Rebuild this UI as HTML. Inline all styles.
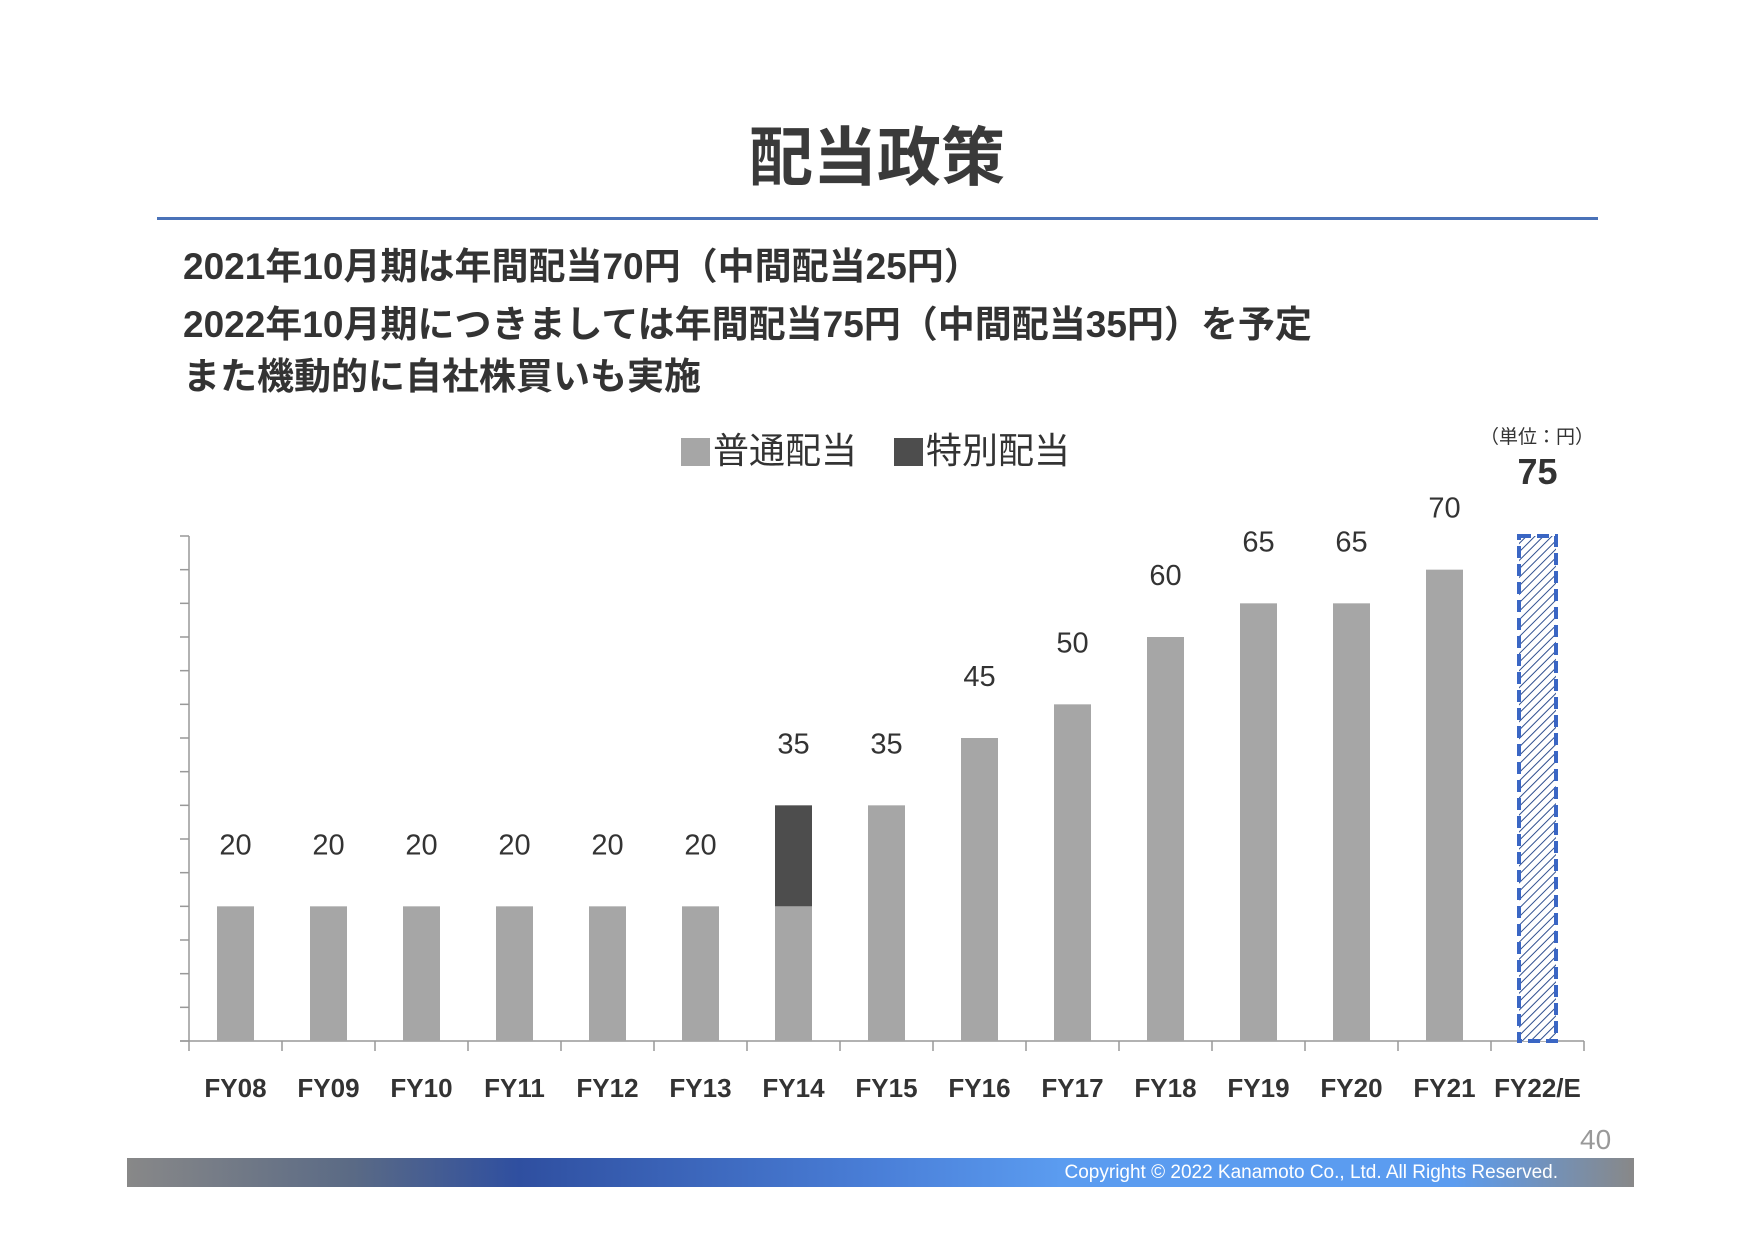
<!DOCTYPE html>
<html><head><meta charset="utf-8"><style>
html,body{margin:0;padding:0;background:#fff;}
body{width:1754px;height:1240px;position:relative;overflow:hidden;font-family:"Liberation Sans","Noto Sans CJK JP",sans-serif;color:#333;}
.abs{position:absolute;white-space:nowrap;}
</style></head><body>
<div class="abs" style="left:0;width:1754px;top:118px;text-align:center;font-size:64px;font-weight:bold;color:#3a3a3a;line-height:80px;">配当政策</div>
<div class="abs" style="left:157px;top:217px;width:1441px;height:3px;background:#4a72b8;"></div>
<div class="abs" style="left:183px;top:245px;font-size:37px;font-weight:bold;line-height:44px;">2021年10月期は年間配当70円（中間配当25円）</div>
<div class="abs" style="left:183px;top:303px;font-size:37px;font-weight:bold;line-height:44px;">2022年10月期につきましては年間配当75円（中間配当35円）を予定</div>
<div class="abs" style="left:183px;top:355px;font-size:37px;font-weight:bold;line-height:44px;">また機動的に自社株買いも実施</div>
<div class="abs" style="left:681px;top:430px;font-size:36px;line-height:42px;"><span style="display:inline-block;width:29px;height:28px;background:#a6a6a6;vertical-align:-3px;margin-right:3px;"></span>普通配当</div>
<div class="abs" style="left:894px;top:430px;font-size:36px;line-height:42px;"><span style="display:inline-block;width:29px;height:28px;background:#4d4d4d;vertical-align:-3px;margin-right:3px;"></span>特別配当</div>
<div class="abs" style="left:1480px;width:96px;text-align:center;top:426px;font-size:19px;line-height:24px;">（単位：円）</div>
<svg class="abs" style="left:0;top:0" width="1754" height="1240" id="chart">
<defs><pattern id="hatch" width="6" height="6" patternUnits="userSpaceOnUse" patternTransform="rotate(45)"><rect width="6" height="6" fill="#fff"/><line x1="0" y1="0" x2="0" y2="6" stroke="#2f4f8f" stroke-width="2"/></pattern></defs>
</svg>
<div class="abs" style="left:1580px;top:1124px;font-size:28px;color:#999;">40</div>
<div class="abs" style="left:127px;top:1158px;width:1507px;height:29px;background:linear-gradient(90deg,#888 0%,#5a6a85 15%,#2f4fa0 26%,#4a7fd8 50%,#5b9cf0 62%,#5b9cf0 88%,#888 100%);"></div>
<div class="abs" style="left:1000px;width:558px;text-align:right;top:1160px;font-size:19px;color:#fff;line-height:26px;">Copyright © 2022 Kanamoto Co., Ltd. All Rights Reserved.</div>
<script>
const categories=["FY08","FY09","FY10","FY11","FY12","FY13","FY14","FY15","FY16","FY17","FY18","FY19","FY20","FY21","FY22/E"];
const regular=[20,20,20,20,20,20,20,35,45,50,60,65,65,70,75];
const special=[0,0,0,0,0,0,15,0,0,0,0,0,0,0,0];
const totals=[20,20,20,20,20,20,35,35,45,50,60,65,65,70,75];
const estimateIndex=[14];
const svg=document.getElementById('chart');
const NS='http://www.w3.org/2000/svg';
const x0=189,x1=1584,yBase=1041,yTop=536,vMax=75;
const step=(x1-x0)/categories.length;
const y=v=>yBase-(v/vMax)*(yBase-yTop);
const cx=i=>x0+step*(i+0.5);
function mk(tag,attrs){const e=document.createElementNS(NS,tag);for(const k in attrs)e.setAttribute(k,attrs[k]);svg.appendChild(e);return e;}
let a=mk('line',{x1:x0,y1:yTop,x2:x0,y2:yBase,stroke:'#999','stroke-width':1.5});


for(let v=0;v<=vMax;v+=5){let t=mk('line',{x1:x0-9,y1:y(v),x2:x0,y2:y(v),stroke:'#999','stroke-width':1.5});

}
let b=mk('line',{x1:x0-9,y1:yBase,x2:x1,y2:yBase,stroke:'#999','stroke-width':1.5});


for(let i=0;i<=categories.length;i++){let t=mk('line',{x1:x0+step*i,y1:yBase,x2:x0+step*i,y2:yBase+10,stroke:'#999','stroke-width':1.5});

}
const bw=37;
categories.forEach((c,i)=>{
  const est=estimateIndex.includes(i);
  if(est){
    let r=mk('rect',{x:cx(i)-bw/2,y:y(regular[i]),width:bw,height:yBase-y(regular[i]),fill:'url(#hatch)',stroke:'#3a66c4','stroke-width':4,'stroke-dasharray':'12,6'});
    
    
  } else {
    let r=mk('rect',{x:cx(i)-bw/2,y:y(regular[i]),width:bw,height:yBase-y(regular[i]),fill:'#a6a6a6'});
    
    
    if(special[i]>0){
      let s=mk('rect',{x:cx(i)-bw/2,y:y(regular[i]+special[i]),width:bw,height:y(regular[i])-y(regular[i]+special[i]),fill:'#4d4d4d'});
      
      
    }
  }
  let lb=mk('text',{x:cx(i),y:y(totals[i])-(est?52:52),'text-anchor':'middle','font-size':est?36:29,'font-weight':est?'bold':'normal',fill:'#333','font-family':'Liberation Sans, sans-serif'});
  lb.textContent=totals[i];
  
  
  let xl=mk('text',{x:cx(i),y:1097,'text-anchor':'middle','font-size':26,'font-weight':'bold',fill:'#333','font-family':'Liberation Sans, sans-serif'});
  xl.textContent=c;
  
  
});
</script>
</body></html>
